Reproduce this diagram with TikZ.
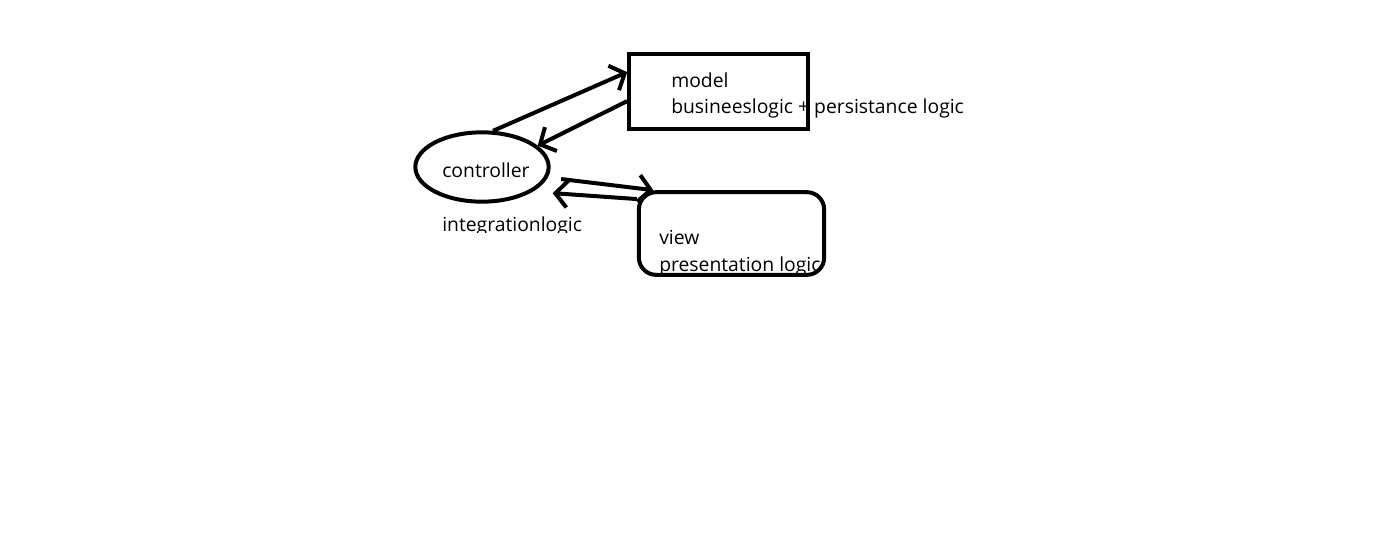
\documentclass[tikz,border=0pt]{standalone}
\usepackage{fontspec}
\setmainfont{Open Sans}
\usepackage{tikz}
\usetikzlibrary{arrows.meta, shapes.geometric}

\tikzset{
  txt/.style={anchor=base west, inner sep=0pt, font=\fontsize{14.5}{17}\selectfont},
  flow/.style={line width=3pt, -{Straight Barb[length=9pt,width=20pt,line width=3pt]}},
}

\begin{document}
\begin{tikzpicture}[x=0.75pt,y=0.75pt,yscale=-1,xscale=1]
%set diagram left start at 0, and has height of 551
\path[use as bounding box] (0,0) rectangle (1385,551);

% Text Node
\node[txt] (tmodel) at (671,87) {model};
% Text Node
\node[txt] (tbusiness) at (671,113) {busineeslogic + persistance logic};
% Text Node
\node[txt] (tctrl) at (442,177) {controller};
% Text Node (cut at the bottom)
\begin{scope}
\clip (0,0) rectangle (1385,232);
\node[txt] (tinteg) at (442,231) {integrationlogic};
\end{scope}
% Text Node
\node[txt] (tview) at (659,244) {view};
% Text Node (cut at the bottom)
\begin{scope}
\clip (0,0) rectangle (824,274);
\node[txt] (tpresent) at (659,271) {presentation logic};
\end{scope}

%Shape: Rectangle
\node[draw, line width=3pt, minimum width=134pt, minimum height=56pt, inner sep=0pt] (model) at (718.5,91.5) {};
%Shape: Ellipse
\node[draw, ellipse, line width=3pt, minimum width=100pt, minimum height=52pt, inner sep=0pt] (ctrl) at (482,167) {};
%Shape: Rounded Rectangle
\node[draw, line width=3pt, rounded corners=13pt, minimum width=139pt, minimum height=62pt, inner sep=0pt] (view) at (731.5,233.5) {};

%Straight Lines
\draw[flow] (ctrl.73) -- (model.168);
%Straight Lines
\draw[flow] (model.186) -- (ctrl.21);
%Straight Lines
\draw[flow, shorten <=10pt] (ctrl.-9) -- (view.151);
%Straight Lines
\draw[flow, shorten >=15pt] (view.160) -- (ctrl.-26);

\end{tikzpicture}
\end{document}
